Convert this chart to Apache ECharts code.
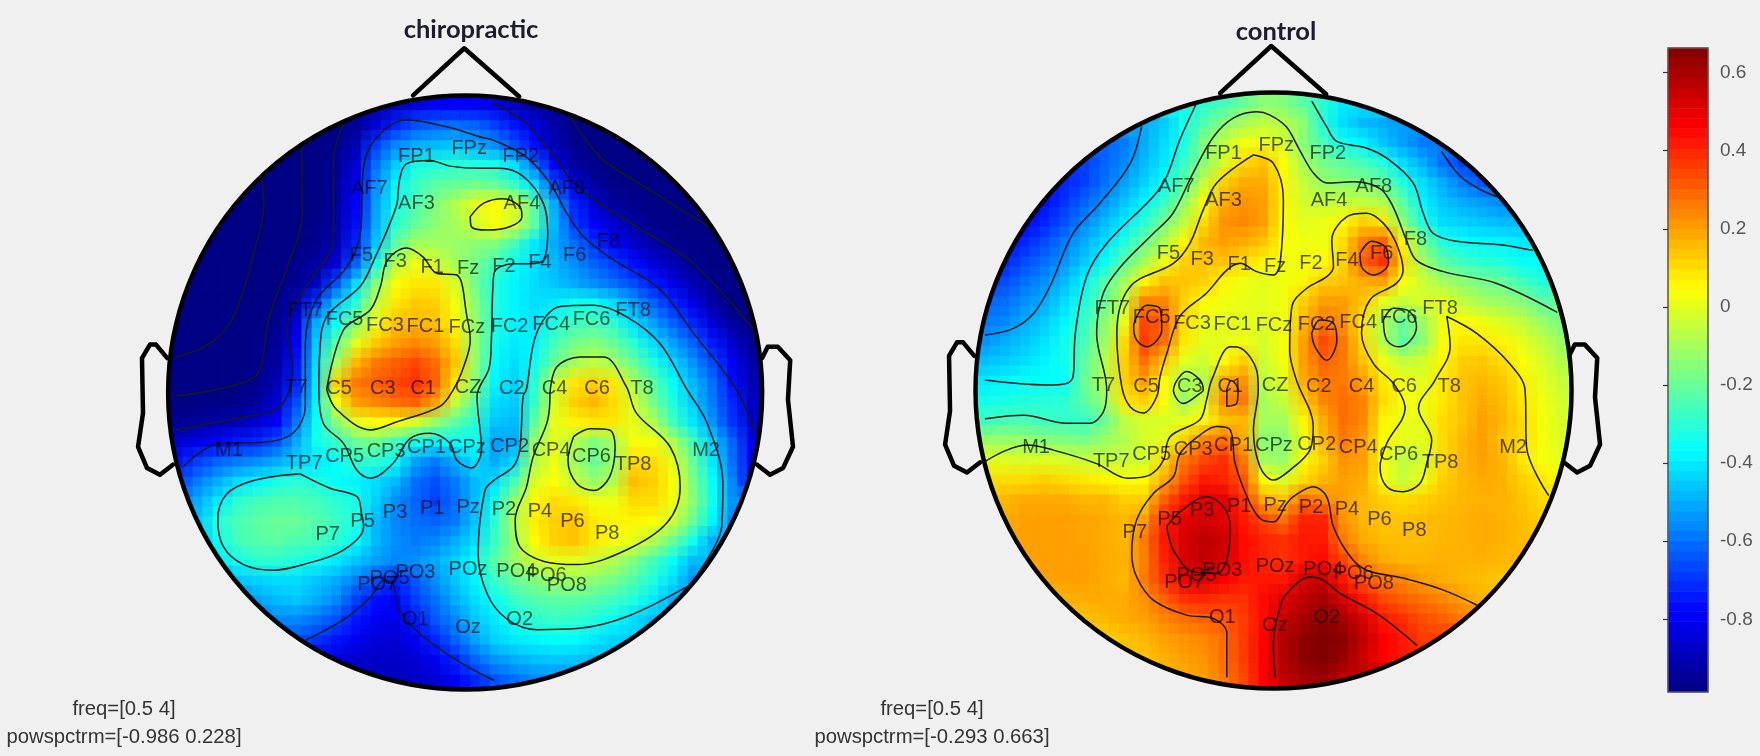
<!DOCTYPE html>
<html><head><meta charset="utf-8">
<style>html,body{margin:0;padding:0;background:#f0f0f0}#c{width:1760px;height:756px}</style>
<script src="https://cdn.jsdelivr.net/npm/echarts@6/dist/echarts.min.js"></script>
</head><body><div id="c"></div>
<script>
// Topographic power values (hundredths); each row starts at the cell given in rowStart.
const rowStart=[10,8,6,4,3,2,2,1,1,0,0,0,0,0,0,0,0,0,0,0,0,1,1,2,2,3,4,6,8,10];
const chiropracticRows=[
[-92,-88,-84,-80,-78,-79,-82,-88,-94],
[-97,-95,-85,-72,-65,-62,-60,-62,-68,-75,-84,-92,-97,-98],
[-98,-98,-96,-90,-68,-56,-50,-48,-46,-50,-55,-65,-76,-90,-96,-98,-98],
[-98,-98,-98,-98,-95,-85,-60,-45,-33,-32,-30,-32,-33,-42,-60,-80,-94,-97,-98,-98,-98],
[-98,-98,-98,-98,-98,-94,-80,-55,-38,-28,-22,-20,-18,-20,-28,-42,-65,-82,-93,-97,-98,-98,-98],
[-98,-98,-98,-98,-98,-98,-93,-78,-52,-34,-25,-16,-8,0,4,-2,-22,-50,-72,-85,-94,-97,-98,-98,-98],
[-98,-98,-98,-98,-98,-97,-92,-76,-50,-30,-20,-14,-10,-3,3,-3,-22,-48,-68,-78,-86,-93,-97,-98,-98],
[-98,-98,-98,-98,-98,-98,-96,-90,-72,-46,-22,-10,-10,-12,-14,-16,-26,-40,-50,-60,-70,-78,-86,-92,-96,-98,-98],
[-98,-98,-98,-98,-98,-97,-93,-85,-62,-33,-7,2,-2,-10,-18,-26,-36,-42,-48,-55,-62,-68,-76,-84,-90,-96,-98],
[-98,-98,-98,-98,-98,-98,-95,-88,-65,-42,-15,3,8,8,-2,-18,-32,-38,-42,-46,-50,-55,-60,-66,-74,-82,-90,-96,-98],
[-98,-98,-98,-98,-98,-97,-90,-68,-45,-30,-5,8,13,12,2,-14,-32,-38,-42,-40,-35,-35,-42,-52,-62,-72,-82,-92,-98],
[-98,-98,-98,-98,-98,-96,-85,-50,-35,-15,2,14,16,15,5,-12,-32,-38,-40,-32,-27,-25,-30,-42,-52,-62,-72,-84,-94,-98],
[-98,-98,-98,-98,-97,-95,-80,-45,-22,0,13,20,24,20,10,-12,-34,-40,-38,-26,-18,-15,-20,-30,-42,-52,-62,-74,-86,-95],
[-98,-98,-98,-98,-97,-93,-75,-42,-10,16,26,30,34,28,14,-12,-36,-42,-35,-20,-10,-6,-10,-20,-32,-43,-54,-66,-80,-92],
[-98,-98,-98,-98,-96,-90,-72,-40,12,26,30,34,38,30,8,-15,-38,-44,-30,-5,8,12,8,-8,-22,-36,-48,-60,-76,-90],
[-98,-98,-98,-97,-94,-85,-66,-38,2,20,24,28,30,20,-5,-22,-42,-45,-28,-2,12,16,10,-2,-18,-32,-45,-58,-72,-88],
[-96,-94,-92,-90,-86,-78,-58,-35,-15,0,4,3,-2,-12,-22,-30,-46,-48,-22,0,6,8,8,0,-8,-26,-40,-54,-70,-86],
[-85,-82,-78,-74,-72,-65,-50,-34,-28,-20,-18,-26,-34,-38,-36,-36,-52,-50,-12,0,-8,-16,-10,3,3,-8,-26,-44,-62,-82],
[-75,-68,-62,-58,-55,-50,-44,-40,-36,-30,-30,-36,-52,-58,-50,-42,-50,-42,-8,2,-10,-20,-12,10,10,0,-20,-40,-60,-80],
[-68,-58,-50,-42,-38,-33,-30,-32,-36,-38,-42,-48,-60,-65,-58,-48,-42,-25,-2,4,-5,-12,-8,15,12,3,-16,-36,-56,-78],
[-58,-50,-40,-30,-26,-24,-24,-26,-30,-33,-44,-55,-62,-68,-60,-48,-34,-12,5,10,8,2,2,10,10,2,-14,-34,-54],
[-45,-32,-25,-22,-20,-20,-23,-27,-33,-48,-56,-60,-62,-58,-46,-30,-8,7,12,14,8,6,6,4,-4,-20,-38,-56],
[-48,-35,-26,-23,-22,-24,-26,-30,-36,-48,-55,-58,-56,-50,-42,-28,-12,5,12,14,8,3,0,-8,-20,-34,-50],
[-40,-34,-30,-30,-32,-34,-40,-46,-52,-56,-55,-50,-44,-36,-22,-12,-4,0,0,-4,-8,-16,-26,-36,-48],
[-55,-46,-44,-42,-42,-46,-50,-58,-66,-72,-64,-55,-46,-38,-28,-20,-16,-12,-12,-14,-18,-24,-32,-42,-55],
[-58,-52,-48,-46,-50,-56,-68,-76,-78,-68,-60,-50,-42,-36,-28,-24,-22,-22,-24,-27,-32,-40,-50],
[-60,-56,-56,-60,-66,-75,-80,-82,-74,-64,-56,-46,-40,-33,-30,-28,-29,-32,-36,-42,-48],
[-65,-70,-75,-80,-84,-85,-80,-72,-62,-52,-44,-40,-38,-36,-37,-40,-44],
[-84,-86,-87,-87,-85,-80,-72,-62,-54,-50,-47,-46,-46,-48],
[-88,-88,-87,-85,-80,-72,-65,-60,-56]];
const controlRows=[
[-34,-30,-26,-20,-14,-16,-22,-30,-40],
[-50,-45,-33,-24,-15,-10,-6,-8,-14,-32,-42,-48,-50,-53],
[-62,-58,-50,-42,-33,-15,-6,2,2,-2,-15,-25,-35,-38,-46,-52,-58],
[-70,-68,-62,-56,-48,-40,-28,-15,-2,10,14,4,-10,-18,-22,-26,-32,-42,-50,-60,-68],
[-76,-72,-68,-60,-52,-44,-35,-22,-5,12,18,18,6,-5,-12,-14,-16,-20,-32,-42,-50,-58,-65],
[-80,-76,-70,-62,-55,-46,-38,-28,-14,4,18,22,20,6,-3,-5,-5,-5,-8,-22,-38,-46,-50,-53,-56],
[-78,-72,-65,-56,-48,-40,-30,-18,-6,10,22,24,20,5,0,1,5,12,8,-14,-32,-42,-44,-46,-48],
[-76,-72,-66,-58,-50,-42,-32,-20,-8,6,16,20,18,14,4,2,2,10,25,30,6,-18,-32,-36,-38,-38,-40],
[-72,-66,-60,-54,-45,-36,-22,-10,2,12,14,14,10,6,2,2,4,12,30,38,10,-10,-22,-27,-30,-32,-36],
[-68,-66,-60,-55,-48,-38,-24,-10,6,14,14,12,6,2,0,2,6,12,14,18,20,4,-4,-10,-14,-18,-20,-26,-32],
[-62,-60,-55,-50,-42,-32,-20,-5,24,24,12,5,2,1,0,2,12,20,20,14,0,-5,-2,0,-6,-10,-12,-15,-22],
[-58,-56,-50,-45,-38,-28,-15,0,34,30,10,2,1,0,0,2,16,26,22,8,-8,-20,-12,2,4,2,-2,-6,-12,-18],
[-54,-50,-46,-41,-34,-25,-12,10,36,28,8,0,0,2,-2,3,20,34,26,10,-8,-22,-14,3,8,8,6,0,-6,-12],
[-47,-45,-42,-38,-34,-22,-8,12,28,14,0,-4,5,12,-4,3,20,30,26,14,2,-6,-3,6,12,13,10,4,-2,-8],
[-40,-38,-36,-36,-36,-20,-8,12,20,5,-10,-8,18,22,-6,0,18,26,26,20,8,2,0,8,14,16,13,7,0,-5],
[-34,-33,-32,-31,-30,-22,-12,8,12,5,-12,-2,24,26,-10,-5,12,24,28,24,10,3,2,8,14,18,15,8,2,-3],
[-27,-25,-25,-27,-28,-28,-20,-6,-2,-2,0,5,14,16,-10,-10,6,18,28,24,6,1,1,10,14,20,16,10,3,-2],
[-12,-12,-12,-15,-16,-17,-12,-8,-2,0,12,24,28,18,-14,-15,2,16,26,20,5,0,0,10,16,20,14,10,3,-2],
[0,-1,-2,-1,-2,-4,-5,-4,-3,10,26,34,38,26,-10,-12,3,12,22,20,3,-6,-3,10,16,20,16,8,3,0],
[10,10,10,12,10,8,6,3,5,18,32,42,40,32,4,-2,10,16,20,18,3,-5,2,12,16,18,17,12,8,4],
[13,16,18,18,18,16,16,12,12,30,42,50,50,38,18,14,28,24,20,16,12,10,12,14,16,17,17,14,10],
[18,20,20,20,19,18,16,20,40,50,53,50,42,34,28,40,40,22,16,14,14,15,16,17,18,17,15,12],
[18,20,20,20,19,18,16,26,42,52,56,54,44,40,38,42,42,26,18,15,15,15,16,17,18,17,15],
[19,20,20,20,18,17,25,40,52,56,52,44,40,38,42,44,34,24,18,16,16,17,17,17,16],
[18,19,20,20,18,16,26,38,48,52,46,42,42,42,52,54,42,32,26,24,20,18,16,15,13],
[15,17,18,18,18,22,30,38,40,38,38,44,50,56,60,52,42,34,30,27,24,20,16],
[14,14,16,18,20,24,28,30,32,36,44,54,60,64,60,52,42,38,33,30,26],
[12,14,16,20,22,24,28,36,46,58,64,66,64,56,46,42,36],
[14,17,20,22,28,36,46,58,64,66,62,54,46,42],
[18,20,26,34,46,56,60,62,56]];
// Colour-scale levels (hundredths) and tick labels
const colorLevels=[-97.3,-94.7,-92.2,-89.6,-87,-84.4,-81.9,-79.3,-76.7,-74.2,-71.6,-69,-66.4,-63.9,-61.3,-58.7,-56.1,-53.6,-51,-48.4,-45.9,-43.3,-40.7,-38.1,-35.6,-33,-30.4,-27.9,-25.3,-22.7,-20.1,-17.6,-15,-12.4,-9.9,-7.3,-4.7,-2.1,0.4,3,5.6,8.1,10.7,13.3,15.9,18.4,21,23.6,26.1,28.7,31.3,33.9,36.4,39,41.6,44.1,46.7,49.3,51.9,54.4,57,59.6,62.1,64.7];
const colorTicks=[-0.8,-0.6,-0.4,-0.2,0,0.2,0.4,0.6];
const jet=['#000080','#0000ff','#0080ff','#00ffff','#80ff80','#ffff00','#ff8000','#ff0000','#800000'];
// Electrode labels [x, y, name] on the head scale
const electrodes=[[371,139,'FP1'],[418,132,'FPz'],[464,139,'FP2'],[329,168,'AF7'],[371,181,'AF3'],[465,181,'AF4'],[505,168,'AF8'],[322,228,'F5'],[352,233,'F3'],[385,238,'F1'],[417,239,'Fz'],[449,237,'F2'],[481,234,'F4'],[512,228,'F6'],[542,215,'F8'],[272,277,'FT7'],[307,285,'FC5'],[343,290,'FC3'],[379,291,'FC1'],[416,292,'FCz'],[454,291,'FC2'],[491,289,'FC4'],[527,285,'FC6'],[564,277,'FT8'],[264,345,'T7'],[302,346,'C5'],[341,346,'C3'],[377,346,'C1'],[417,345,'CZ'],[456,346,'C2'],[494,346,'C4'],[532,346,'C6'],[572,346,'T8'],[204,401,'M1'],[629,401,'M2'],[271,413,'TP7'],[307,407,'CP5'],[344,402,'CP3'],[380,399,'CP1'],[416,399,'CPz'],[454,398,'CP2'],[491,401,'CP4'],[527,407,'CP6'],[564,414,'TP8'],[292,476,'P7'],[323,465,'P5'],[352,457,'P3'],[385,453,'P1'],[417,452,'Pz'],[449,454,'P2'],[481,456,'P4'],[510,465,'P6'],[541,475,'P8'],[336,521,'PO7'],[347,515,'PO5'],[370,510,'PO3'],[417,507,'POz'],[460,509,'PO4'],[487,513,'PO6'],[505,522,'PO8'],[370,552,'O1'],[417,559,'Oz'],[463,552,'O2']];
const headShift=[719,-2];
const nose=[[368,85],[413.6,43],[462.5,86]];
const earLeft=[[149,319],[139,307],[133.6,307],[126.5,319],[127.4,368],[123,398],[131,417],[142.5,423],[154,414]];
const earRight=[[679,319],[684,309],[693,309],[704,321],[702,356],[706.5,398],[697.6,417],[686,423],[674.5,414]];
const headCircles=[[414.4,349.7,264.6],[1134.6,347.9,265.5]];
const contoursLeft=[
[[233,157],[235,181],[226,226],[208,282],[187,306],[157,318]],
[[269,131],[269,193],[258,232],[240,282],[233,324],[227,336],[202,345],[157,353]],
[[306,110],[297,143],[297,214],[279,246],[261,273],[256,297],[261,327],[257,350],[246,365],[220,371],[157,383]],
[[506,101],[535,140],[564,160],[632,202]],
[[440,92],[469,110],[490,134],[514,166],[558,196],[618,235],[674,297]],
[[163,416],[195,395],[235,394],[261,386],[272,362],[272,306],[282,267],[309,238],[321,208],[324,148],[336,122],[362,107],[398,113],[428,122],[440,125],[469,140],[490,163],[505,190],[520,211],[543,229],[588,258],[618,297],[656,347],[673,386]],
[[615,521],[558,549.5],[514,560],[478,561],[451,551],[434,529],[426,493],[432,437],[440,428],[457,416],[463,401],[466,353],[469,347],[478,297],[499,273],[529,272],[558,282],[588,306],[612,347],[630,377],[644,431],[643,469],[635,490],[615,521]],
[[490,350],[496,327],[517,318],[538,318],[558,344.5],[567,368],[597,398],[606,434],[594,466],[558,490],[514,503],[484,500],[463,487],[459,463],[469,434],[475,407],[488,374],[490,350]],
[[511,389],[526,382],[543,383],[548,398],[543,425],[529,437],[514,431],[506,410],[511,389]],
[[284,347],[285,312],[291,282],[321,255],[333,232],[353,184],[356,160],[362,146],[383,143],[401,148],[428,150],[445,150],[466,157],[484,181],[488,208],[484,232],[472,235],[457,235],[440,244],[438,297],[436,327],[425,353],[429,401],[420,417],[407,410],[401,395],[383,386],[365,391],[350,413],[330,426],[318,419],[306,395],[288,377],[284,347]],
[[291,347],[306,294],[330,276],[339,255],[345,232],[362,221],[377,229],[389,243.5],[407,245],[416,282],[419,303],[413,327],[404,347],[392,362],[353,376],[330,383],[300,365],[291,347]],
[[419,193],[431,181],[448,177],[463,184],[465,193],[454,202],[434,205],[420,202],[419,193]],
[[267,422],[294,435],[318,442.5],[322,457],[324,469],[306,490],[270,503],[243.5,508],[217,503],[199,487],[194,463],[202,440],[226,428],[267,422]],
[[273,570],[306,552],[330,532],[342,517],[350,520],[356,544],[377,567],[410,590],[440,606]]];
const contoursRight=[
[[1017,113],[1007,145.5],[980,181],[956,208],[935.5,255],[921,279],[903,292.5],[878,298.5]],
[[1066,92],[1051,125],[1039.5,157],[1027.5,175],[986,217],[968,246.5],[958,297],[956,335.6],[950,341.6],[932.5,343],[878,338.6]],
[[1387,278],[1333.5,252.5],[1286,242],[1262,232],[1253,214],[1241,184],[1229.5,168],[1206,162],[1182,163],[1170,154],[1158,134],[1146,113],[1131.5,102.5],[1119.6,99.5],[1099,105],[1081,122],[1063,154],[1045,190],[1027.5,208],[998,238],[983,261],[977,297],[986,347.5],[983,367],[971,377],[950,377],[912,370],[878,373]],
[[1169,90.6],[1182,113],[1191,126],[1218,132],[1238,142.6],[1259,163],[1268,190],[1277,208],[1298,215],[1336.5,218],[1365,223]],
[[1284.5,135],[1301,157],[1319,169],[1333,175]],
[[877.6,411],[897,401],[915,396.5],[938.5,401],[977,413],[1004,426],[1024.6,423],[1036.5,410],[1042.4,389],[1069,374],[1075,356],[1079.5,338.6],[1096,309],[1105,310],[1119.6,330],[1121,347],[1116.7,383],[1122.6,416],[1134.5,427.7],[1149,419],[1167,401],[1170,380],[1155,338.6],[1149,312],[1151,273],[1164,257],[1182,246.5],[1188,237.6],[1186.5,214],[1200,193],[1217.6,190],[1232.5,199],[1244,217],[1250,240.6],[1244,252.5],[1220.6,267],[1213,297],[1223.6,324],[1241.4,341.6],[1251.8,364],[1235.5,395],[1229.5,416],[1235.5,433.6],[1250,438],[1265,430.7],[1271,413],[1275.5,392],[1263.7,364],[1278.5,338.6],[1292,309],[1289,282],[1315.6,297],[1345,324],[1358.7,347.5],[1360,398],[1379.5,441]],
[[1116.7,138],[1134.5,145.5],[1143.4,178],[1140.4,234.6],[1134.5,245],[1119.6,242],[1104.8,234.6],[1093,240.6],[1075,261],[1051,282],[1039.5,315],[1033.5,335.6],[1030.5,353.5],[1018.7,368],[1006.8,362.4],[999.4,344.5],[995,297],[1006.8,255.4],[1045.4,234.6],[1060,217],[1072,187],[1084,163],[1116.7,138]],
[[1012.7,282],[1021.6,272],[1033.5,275],[1035,294],[1021.6,309],[1012.7,303],[1010,291],[1012.7,282]],
[[1047,341.6],[1057,331],[1069,338.6],[1072,347.5],[1069,350.5],[1054,359.4],[1045.4,347.5],[1047,341.6]],
[[1093,347],[1093,362],[1102,359],[1103,347],[1097,339],[1093,347]],
[[1211.7,225.7],[1222,215],[1235,221],[1237,234.6],[1223.6,245],[1213,237.6],[1211.7,225.7]],
[[1168.6,297],[1176,285],[1188,288],[1191,303],[1182,321],[1171.6,309],[1168.6,297]],
[[1232.5,285],[1241.4,274.7],[1256,277.7],[1262,291],[1256,304],[1246,309],[1235.5,303],[1232.5,285]],
[[1093,603],[1093,564],[1081,551],[1057,548],[1027.5,534.6],[1012.7,514],[1008.3,493],[1012.7,463],[1027.5,439.6],[1045.4,424.7],[1051.3,404],[1069,387.6],[1084,380],[1096,383],[1100.4,413],[1113.7,448.5],[1124,463],[1134.5,465],[1146.4,448.5],[1152,442.6],[1170,433.6],[1182,442.6],[1188,469.3],[1203,496],[1217.6,508],[1250,515],[1286,525.7],[1315.6,539]],
[[1039.5,469],[1051.3,456],[1075,442.6],[1090,451.5],[1096,469],[1094.4,493],[1084,511],[1063,509.4],[1045.4,490],[1039.5,469]],
[[1136,603],[1134.5,573],[1140.4,540.6],[1146.4,528.7],[1167,514],[1179,517],[1194,528.7],[1226.5,546.5],[1262,574.7]]];
const titles=['chiropractic','control'];
const notes=['freq=[0.5 4]\npowspctrm=[-0.986 0.228]','freq=[0.5 4]\npowspctrm=[-0.293 0.663]'];

const CELLS=30, BG='#f0f0f0';
// One spare cell on every side lies under the head outline so that the offset layers leave no gap there.
const TOTAL=CELLS+2;
const cellNames=Array.from({length:TOTAL},(_,i)=>String(i));
function cells(rows){
  const out=[];
  const padded=[rows[0],...rows,rows[rows.length-1]];
  const starts=[rowStart[0],...rowStart,rowStart[rowStart.length-1]];
  padded.forEach((r,j)=>{
    const full=[r[0],r[0],r[0],...r,r[r.length-1],r[r.length-1],r[r.length-1]];
    full.forEach((v,k)=>{const i=starts[j]+k-3+1; if(i>=0&&i<TOTAL) out.push([i,j,v/100]);});
  });
  return out;
}
const noAxis={show:false};
const plain={animation:false,silent:true};
// Each head is drawn as four half-cell-offset layers of the same values, which softens the cell edges.
const layers=[[-0.25,-0.25,1],[0.25,-0.25,0.5],[-0.25,0.25,1/3],[0.25,0.25,0.25]];
const headRects=[[168,95.5,594,594],[975,93,597,595]];
const headRows=[chiropracticRows,controlRows];
const heatGrids=[],heatX=[],heatY=[],heatSeries=[];
headRects.forEach((rc,h)=>{
  const data=cells(headRows[h]);
  const cw=rc[2]/CELLS, ch=rc[3]/CELLS;
  layers.forEach(l=>{
    const idx=heatGrids.length;
    heatGrids.push({left:rc[0]+(l[0]-1)*cw,top:rc[1]+(l[1]-1)*ch,width:cw*TOTAL,height:ch*TOTAL});
    heatX.push({type:'category',gridIndex:idx,data:cellNames,...noAxis});
    heatY.push({type:'category',gridIndex:idx,data:cellNames,inverse:true,...noAxis});
    heatSeries.push({...plain,type:'heatmap',xAxisIndex:idx,yAxisIndex:idx,data,z:1,progressive:0,itemStyle:{borderWidth:0,opacity:l[2]}});
  });
});
const BAR=heatGrids.length, BARAX=BAR+1, OV=BAR+2;
function line(pts,w,c,smooth){return {...plain,type:'line',xAxisIndex:OV,yAxisIndex:OV,data:pts,showSymbol:false,symbol:'none',smooth:smooth,clip:false,z:w>3?6:4,lineStyle:{color:c,width:w,join:'round',cap:'round'}};}
const shift=a=>a.map(p=>[p[0]+headShift[0],p[1]+headShift[1]]);

const series=[
  ...heatSeries,
  {...plain,type:'heatmap',xAxisIndex:BAR,yAxisIndex:BAR,z:5,progressive:0,data:colorLevels.map((v,i)=>[0,i,v/100])},
  {...plain,type:'custom',xAxisIndex:OV,yAxisIndex:OV,clip:false,z:3,data:headCircles,
    encode:{x:0,y:1},
    renderItem:(p,api)=>{const c=api.coord([api.value(0),api.value(1)]);const r=api.size([api.value(2),0])[0];
      return {type:'circle',shape:{cx:c[0],cy:c[1],r:r+70},style:{fill:'none',stroke:BG,lineWidth:140}};}},
  ...contoursLeft.map(c=>line(c,1.5,'#1a1a1a',0.35)),
  ...contoursRight.map(c=>line(c,1.5,'#1a1a1a',0.35)),
  line(nose,4.5,'#000',false),line(earLeft,4.5,'#000',false),line(earRight,4.5,'#000',false),
  line(shift(nose),4.5,'#000',false),line(shift(earLeft),4.5,'#000',false),line(shift(earRight),4.5,'#000',false),
  {...plain,type:'custom',xAxisIndex:OV,yAxisIndex:OV,clip:false,z:7,data:headCircles,
    encode:{x:0,y:1},
    renderItem:(p,api)=>{const c=api.coord([api.value(0),api.value(1)]);const r=api.size([api.value(2),0])[0];
      return {type:'circle',shape:{cx:c[0],cy:c[1],r:r},style:{fill:'none',stroke:'#000',lineWidth:4.5}};}},
  ...[electrodes,electrodes.map(e=>[e[0]+headShift[0],e[1]+headShift[1],e[2]])].map(d=>({...plain,type:'scatter',xAxisIndex:OV,yAxisIndex:OV,clip:false,z:8,data:d,symbolSize:1,itemStyle:{color:'rgba(0,0,0,0)'},
    label:{show:true,position:'inside',offset:[0,1.5],formatter:q=>q.value[2],color:'rgba(0,0,0,0.82)',fontFamily:'Liberation Sans',fontSize:20},labelLayout:{hideOverlap:false}}))
];

const textBits=(i,x,y,nx)=>[
  {text:titles[i],left:x,top:y,textAlign:'center',textStyle:{fontFamily:'Lato',fontWeight:'bold',fontSize:25.5,color:'#1c1c2c'}},
  {text:notes[i],left:nx,top:690,textAlign:'center',textStyle:{fontFamily:'Liberation Sans',fontWeight:'normal',fontSize:20.3,lineHeight:28,color:'#333'}}
];

const option={
  animation:false,backgroundColor:BG,
  title:[...textBits(0,466,12,119),...textBits(1,1271,14,927)],
  grid:[
    ...heatGrids,
    {left:1668,top:48,width:40,height:644},
    {left:1668,top:48,width:40,height:644,show:true,z:10,backgroundColor:'transparent',borderColor:'#555',borderWidth:1.5},
    {left:0,top:0,width:1760,height:756}
  ],
  xAxis:[
    ...heatX,
    {type:'category',gridIndex:BAR,data:['scale'],...noAxis},
    {type:'value',gridIndex:BARAX,min:0,max:1,...noAxis},
    {type:'value',gridIndex:OV,min:0,max:1568,...noAxis}
  ],
  yAxis:[
    ...heatY,
    {type:'category',gridIndex:BAR,data:colorLevels.map(String),...noAxis},
    {type:'value',gridIndex:BARAX,min:-0.986,max:0.663,position:'right',z:11,
      splitLine:{show:false},axisLine:{show:false},
      axisTick:{show:true,inside:true,length:5,lineStyle:{color:'#333',width:1.2},customValues:colorTicks},
      axisLabel:{show:true,margin:12,padding:[3,0,0,0],color:'#555',fontFamily:'Liberation Sans',fontSize:19,customValues:colorTicks,
        formatter:v=>v===0?'0':Number(v).toFixed(1)}},
    {type:'value',gridIndex:OV,min:0,max:673.5,inverse:true,...noAxis}
  ],
  visualMap:{type:'continuous',show:false,min:-0.986,max:0.663,dimension:2,seriesIndex:heatSeries.map((_,i)=>i).concat(heatSeries.length),inRange:{color:jet}},
  tooltip:{show:false},
  series
};
const chart=echarts.init(document.getElementById('c'),null,{renderer:'canvas'});
chart.setOption(option);
</script></body></html>
